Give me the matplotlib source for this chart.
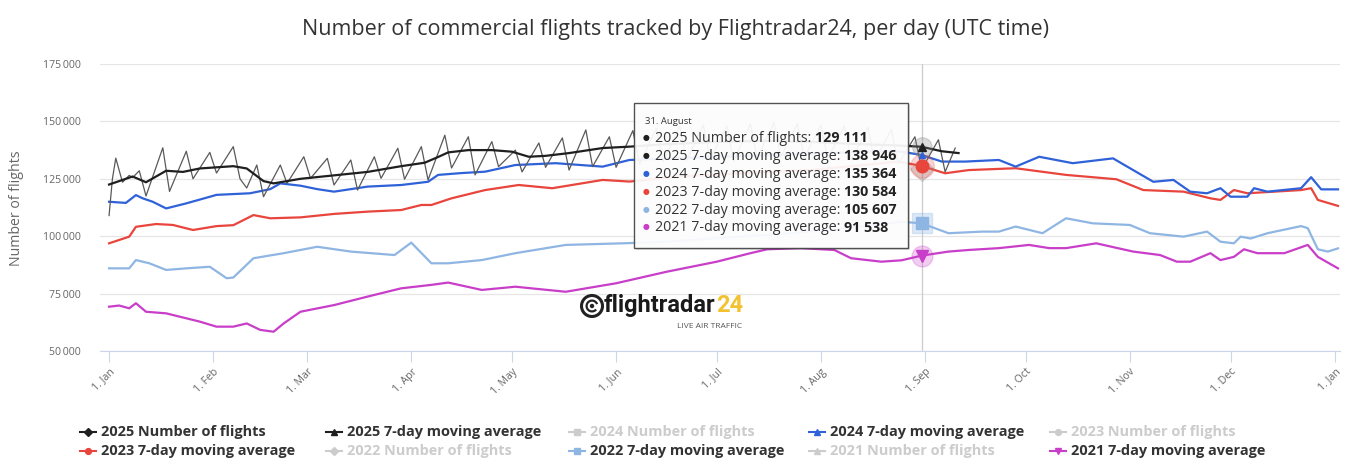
import matplotlib
matplotlib.use("Agg")
import matplotlib.pyplot as plt
from matplotlib.lines import Line2D
from matplotlib.patches import Rectangle, Circle, Wedge

plt.rcParams['font.family'] = ['Open Sans', 'DejaVu Sans']

# ---------------- data (day of year index, value) ----------------
daily2025_days = [0, 1, 2, 4, 6, 7, 9, 11, 16, 18, 23, 25, 30, 32, 37, 39, 41, 44, 46,
                  51, 53, 58, 60, 65, 67, 72, 74, 79, 81, 86, 88, 93, 95, 100, 102, 107, 109,
                  114, 116, 121, 123, 128, 130, 135, 137, 142, 144, 149, 151, 156, 158, 163, 165,
                  170, 172, 177, 179, 184, 186, 191, 193, 198, 200, 205, 207, 212, 214, 219, 221,
                  226, 228, 233, 235, 240, 242, 247, 249, 252]
daily2025_vals = [109000, 125000, 134000, 123500, 126500, 125500, 128500, 117500, 138500, 119500,
                  137000, 125000, 136500, 127500, 139000, 125000, 121000, 131000, 117200,
                  131000, 123000, 134600, 125200, 133900, 122300, 133200, 120100, 134600, 125200,
                  138300, 124800, 139000, 124500, 144000, 129700, 143300, 126700,
                  141200, 130300, 137500, 128000, 140600, 130000, 142800, 128800, 146300, 130300,
                  143300, 130000, 146000, 131500, 147000, 132500, 148000, 133000, 148500, 133500,
                  148000, 132500, 149000, 134000, 149500, 134500, 149000, 134000, 148500, 133500,
                  148000, 133000, 147500, 132500, 146500, 131500, 143300, 129111, 142000, 128000,
                  138400]

ma2025_days = [0, 4, 7, 11, 17, 22, 27, 37, 41, 46, 49, 57, 67, 77, 87, 94, 98, 101, 107, 114,
               120, 125, 130, 137, 147, 155, 165, 180, 195, 210, 225, 235, 242, 248, 253]
ma2025_vals = [122500, 124500, 126000, 123500, 128500, 128000, 129500, 130500, 129500, 124000,
               123000, 125000, 126500, 128000, 130500, 132000, 134500, 136500, 137500, 137500,
               136800, 134600, 135000, 136200, 138400, 139000, 140000, 141000, 141500, 141000,
               140000, 139500, 138946, 137000, 136200]

ma2024_days = [0, 5, 8, 10, 13, 17, 23, 32, 42, 48, 51, 57, 62, 67, 77, 87, 95, 98, 105, 112,
               121, 133, 147, 155, 170, 190, 210, 230, 236, 242, 248, 255, 265, 270, 277, 287,
               299, 305, 311, 317, 322, 327, 331, 334, 339, 341, 345, 355, 358, 361, 366]
ma2024_vals = [115000, 114500, 117900, 116500, 115000, 112100, 114300, 118000, 118700, 120500,
               123000, 122000, 120500, 119400, 121600, 122300, 123700, 126700, 127500, 128100,
               131000, 131800, 130300, 133200, 134000, 135000, 136000, 137000, 136800, 135364,
               132500, 132500, 133200, 130300, 134600, 131800, 133900, 128800, 123700, 124500,
               119400, 118700, 120900, 117200, 117200, 120900, 119400, 120900, 125700, 120400,
               120400]

ma2023_days = [0, 6, 8, 14, 19, 25, 32, 37, 43, 48, 57, 67, 77, 87, 93, 96, 102, 112, 122, 132,
               147, 155, 170, 190, 210, 225, 235, 242, 249, 256, 270, 285, 300, 308, 320, 328,
               331, 335, 339, 355, 358, 360, 366]
ma2023_vals = [96900, 99800, 104100, 105300, 104900, 102700, 104400, 104800, 109200, 107800,
               108200, 109700, 110700, 111400, 113600, 113600, 116500, 120100, 122300, 120900,
               124500, 123800, 126000, 127500, 129000, 131000, 132500, 130584, 127400, 128800,
               129600, 126700, 124800, 120100, 119400, 116500, 115800, 120100, 118700, 120100,
               120900, 115800, 113200]

ma2022_days = [0, 6, 8, 12, 17, 23, 30, 35, 37, 43, 52, 62, 72, 85, 90, 96, 101, 111, 121, 136,
               153, 165, 180, 200, 220, 236, 242, 250, 260, 265, 270, 278, 285, 293, 304, 310,
               320, 327, 331, 335, 337, 340, 345, 355, 357, 360, 363, 366]
ma2022_vals = [86000, 86000, 89600, 88200, 85300, 86000, 86700, 81700, 82000, 90400, 92600,
               95400, 93300, 91800, 97200, 88200, 88200, 89600, 92600, 96200, 96900, 97500,
               99000, 101000, 103500, 106300, 105607, 101300, 102000, 102000, 104200, 101300,
               107800, 105600, 104900, 101300, 99800, 102000, 97600, 96900, 99800, 99000,
               101300, 104400, 103500, 94300, 93300, 94700]

ma2021_days = [0, 3, 6, 8, 11, 17, 27, 32, 37, 41, 45, 49, 52, 57, 67, 77, 87, 96, 101, 111,
               121, 136, 151, 166, 181, 191, 196, 206, 216, 221, 230, 236, 242, 250, 256, 265,
               274, 280, 285, 294, 305, 313, 318, 322, 328, 331, 335, 338, 342, 350, 357, 360,
               366]
ma2021_vals = [69300, 69800, 68600, 70800, 67100, 66400, 62800, 60600, 60600, 62000, 59200,
               58400, 62000, 67100, 70000, 73700, 77300, 78800, 79800, 76600, 78000, 75800,
               79500, 84500, 88900, 92600, 94300, 94800, 94000, 90400, 88900, 89500, 91538,
               93300, 94000, 94800, 96200, 94800, 94800, 96900, 93300, 91800, 88900, 88900,
               92600, 89600, 91000, 94300, 92600, 92600, 96200, 91000, 86000]

month_days = [0, 31, 59, 90, 120, 151, 181, 212, 243, 273, 304, 334, 365]
month_labels = ["1. Jan", "1. Feb", "1. Mar", "1. Apr", "1. May", "1. Jun", "1. Jul",
                "1. Aug", "1. Sep", "1. Oct", "1. Nov", "1. Dec", "1. Jan"]
y_ticks = [50000, 75000, 100000, 125000, 150000, 175000]

hover_day = 242
hover_date = "31. August"
tooltip_labels = ["2025 Number of flights", "2025 7-day moving average",
                  "2024 7-day moving average", "2023 7-day moving average",
                  "2022 7-day moving average", "2021 7-day moving average"]
tooltip_values = [129111, 138946, 135364, 130584, 105607, 91538]

legend_labels = [["2025 Number of flights", "2025 7-day moving average", "2024 Number of flights",
                  "2024 7-day moving average", "2023 Number of flights"],
                 ["2023 7-day moving average", "2022 Number of flights", "2022 7-day moving average",
                  "2021 Number of flights", "2021 7-day moving average"]]

# ---------------- styles ----------------
C_DAILY = '#595959'
C25 = '#1f1f1f'
C24 = '#2f62d9'
C23 = '#e8453c'
C22 = '#8fb6e3'
C21 = '#c93ec9'
HID = '#cccccc'

W, H = 1346, 461
fig = plt.figure(figsize=(W / 100, H / 100), dpi=100)
fig.patch.set_facecolor('white')


def fx(px):
    return px / W


def fy(py):
    return 1 - py / H


ax = fig.add_axes([fx(100), fy(351), fx(1340) - fx(100), fy(64) - fy(351)])
ax.set_xlim(-2.7, 366.6)
ax.set_ylim(50000, 175000)

for s in ['top', 'right', 'left']:
    ax.spines[s].set_visible(False)
ax.spines['bottom'].set_color('#ccd6eb')
ax.spines['bottom'].set_linewidth(0.8)

ax.set_yticks(y_ticks)
ax.set_yticklabels([f"{v:,}".replace(",", "\u2009") for v in y_ticks])
ax.tick_params(axis='y', length=0, pad=14, labelsize=7.6, labelcolor='#666666')
ax.grid(axis='y', color='#e6e6e6', lw=0.9)
ax.set_axisbelow(True)

ax.set_xticks(month_days)
ax.set_xticklabels(month_labels, rotation=45, ha='right', rotation_mode='anchor')
ax.tick_params(axis='x', length=8, width=0.8, color='#ccd6eb', pad=3,
               labelsize=7.6, labelcolor='#666666')

ax.axvline(hover_day, color='#cccccc', lw=0.9, zorder=1)

ax.plot(ma2021_days, ma2021_vals, color=C21, lw=1.6, zorder=3)
ax.plot(ma2022_days, ma2022_vals, color=C22, lw=1.6, zorder=3)
ax.plot(ma2023_days, ma2023_vals, color=C23, lw=1.6, zorder=3)
ax.plot(ma2024_days, ma2024_vals, color=C24, lw=1.6, zorder=3)
ax.plot(daily2025_days, daily2025_vals, color=C_DAILY, lw=0.9, zorder=4)
ax.plot(ma2025_days, ma2025_vals, color=C25, lw=1.6, zorder=5)

# hover markers
hv = dict(zip(tooltip_labels, tooltip_values))
ax.plot([hover_day], [hv["2025 Number of flights"]], marker='D', ms=12, color='#999999', alpha=0.3, zorder=6)
ax.plot([hover_day], [hv["2023 7-day moving average"]], marker='o', ms=17, color=C23, alpha=0.22, zorder=6)
ax.plot([hover_day], [hv["2023 7-day moving average"]], marker='o', ms=9, color=C23, zorder=7)
ax.plot([hover_day], [hv["2025 7-day moving average"]], marker='o', ms=14, color='#888888', alpha=0.3, zorder=6)
ax.plot([hover_day], [hv["2025 7-day moving average"]], marker='^', ms=6, color=C25, zorder=7)
ax.plot([hover_day], [hv["2024 7-day moving average"]], marker='^', ms=5, color=C24, zorder=7)
ax.plot([hover_day], [hv["2022 7-day moving average"]], marker='s', ms=14, color=C22, alpha=0.3, zorder=6)
ax.plot([hover_day], [hv["2022 7-day moving average"]], marker='s', ms=8, color=C22, zorder=7)
ax.plot([hover_day], [hv["2021 7-day moving average"]], marker='o', ms=15, color=C21, alpha=0.25, zorder=6)
ax.plot([hover_day], [hv["2021 7-day moving average"]], marker='v', ms=8, color=C21, zorder=7)

renderer = fig.canvas.get_renderer()


def fit_width(t, target_px):
    bb = t.get_window_extent(renderer)
    t.set_fontsize(t.get_fontsize() * target_px / bb.width)


# y label
ylab = fig.text(fx(17), fy(208), "Number of flights", rotation=90, ha='center', va='center',
                color='#666666', fontsize=9)
bb = ylab.get_window_extent(renderer)
ylab.set_fontsize(9 * 117 / bb.height)

# title
title = fig.text(fx(676), fy(30), "Number of commercial flights tracked by Flightradar24, per day (UTC time)",
                 ha='center', va='center', color='#333333', fontsize=13)
fit_width(title, 742)

# ---------------- tooltip ----------------
tx0, ty0, tx1, ty1 = 634, 103, 908, 248
fig.patches.append(Rectangle((fx(tx0 + 2), fy(ty1 + 2)), fx(tx1 - tx0), fy(ty0) - fy(ty1),
                             transform=fig.transFigure, facecolor='#000000', alpha=0.12,
                             edgecolor='none', zorder=9))
fig.patches.append(Rectangle((fx(tx0), fy(ty1)), fx(tx1 - tx0), fy(ty0) - fy(ty1),
                             transform=fig.transFigure, facecolor='white', alpha=0.93,
                             edgecolor='#444444', lw=1.0, zorder=10))
fig.text(fx(645), fy(121.7), hover_date, fontsize=6.8, color='#333333', va='center', zorder=11)

tt_colors = [C25, C25, C24, C23, C22, C21]
tt_y = [138.5, 156.5, 174.3, 192.2, 210.0, 227.7]

probe_a = fig.text(0, 0, tooltip_labels[1] + ": ", fontsize=10)
probe_b = fig.text(0, 0, f"{tooltip_values[1]:,}".replace(",", " "), fontsize=10, fontweight='bold')
wtot = probe_a.get_window_extent(renderer).width + probe_b.get_window_extent(renderer).width
probe_a.remove()
probe_b.remove()
tt_size = 10 * 242 / wtot

for lab, val, col, yy in zip(tooltip_labels, tooltip_values, tt_colors, tt_y):
    fig.text(fx(646.5), fy(yy), "\u25cf", color=col, fontsize=tt_size * 0.55, ha='center', va='center', zorder=11)
    t1 = fig.text(fx(655), fy(yy), lab + ": ", fontsize=tt_size, color='#333333', va='center', zorder=11)
    w1 = t1.get_window_extent(renderer).width
    fig.text(fx(655 + w1), fy(yy), f"{val:,}".replace(",", " "), fontsize=tt_size, fontweight='bold',
             color='#222222', va='center', zorder=11)

# ---------------- watermark logo ----------------
cx, cy = 592 / 100, (H - 306) / 100
fig.patches.append(Circle((cx, cy), 0.105, transform=fig.dpi_scale_trans, facecolor='none',
                          edgecolor='#222222', lw=2.2, zorder=2))
fig.patches.append(Wedge((cx, cy), 0.065, 20, 320, width=0.022, transform=fig.dpi_scale_trans,
                         facecolor='#222222', edgecolor='none', zorder=2))
fig.patches.append(Circle((cx, cy), 0.022, transform=fig.dpi_scale_trans, facecolor='#222222',
                          edgecolor='none', zorder=2))
logo_fam = ['Liberation Sans Narrow', 'Roboto', 'DejaVu Sans']
lt = fig.text(fx(604), fy(312), "flightradar", fontsize=16, color='#1a1a1a', fontweight='bold',
              family=logo_fam, va='baseline', ha='left', zorder=2)
fit_width(lt, 112)
x_end = lt.get_window_extent(renderer).x1
fig.text(fx(x_end + 0.5), fy(312), "24", fontsize=lt.get_fontsize(), color='#f2c230',
         fontweight='bold', family=logo_fam, va='baseline', ha='left', zorder=2)
sub = fig.text(fx(710), fy(326), "LIVE AIR TRAFFIC", fontsize=4, color='#555555',
               ha='center', va='center', zorder=2)
fit_width(sub, 64)

# ---------------- legend ----------------
col_x = [101, 347, 590, 830, 1071]
row_y = [432, 451]
legend_colors = [[C25, C25, HID, C24, HID], [C23, HID, C22, HID, C21]]
legend_markers = [['D', '^', 's', '^', 'o'], ['o', 'D', 's', '^', 'v']]
legend_text_colors = [['#333333', '#333333', HID, '#333333', HID],
                      ['#333333', HID, '#333333', HID, '#333333']]
leg_texts = []
for r in range(2):
    for c in range(5):
        x = col_x[c]
        y = row_y[r]
        col = legend_colors[r][c]
        fig.add_artist(Line2D([fx(x - 21), fx(x - 5)], [fy(y), fy(y)], color=col, lw=1.5,
                              transform=fig.transFigure))
        fig.add_artist(Line2D([fx(x - 13)], [fy(y)], marker=legend_markers[r][c], ms=4.2,
                              color=col, lw=0, transform=fig.transFigure))
        t = fig.text(fx(x), fy(y), legend_labels[r][c], fontsize=9.5, fontweight='bold',
                     color=legend_text_colors[r][c], va='center', ha='left')
        leg_texts.append(t)

bw = leg_texts[1].get_window_extent(renderer).width
lsize = 9.5 * 196 / bw
for t in leg_texts:
    t.set_fontsize(lsize)

fig.savefig("out.png", dpi=100, facecolor='white')
